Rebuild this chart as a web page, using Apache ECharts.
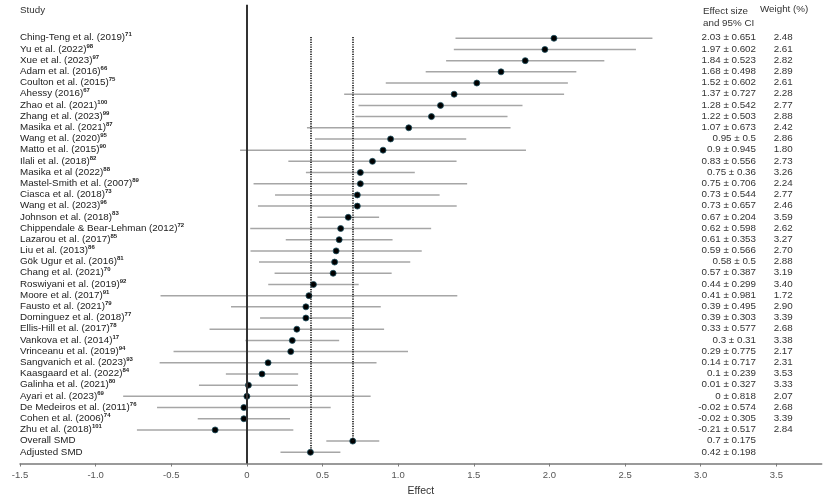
<!DOCTYPE html>
<html><head><meta charset="utf-8">
<script src="https://cdn.jsdelivr.net/npm/echarts@6/dist/echarts.min.js"></script>
<style>html,body{margin:0;padding:0;background:#fff}#c{width:831px;height:499px}</style>
</head><body><div id="c"></div>
<script>
const studies = ["Ching-Teng et al. (2019)","Yu et al. (2022)","Xue et al. (2023)","Adam et al. (2016)","Coulton et al. (2015)","Ahessy (2016)","Zhao et al. (2021)","Zhang et al. (2023)","Masika et al. (2021)","Wang et al. (2020)","Matto et al. (2015)","Ilali et al. (2018)","Masika et al (2022)","Mastel-Smith et al. (2007)","Ciasca et al. (2018)","Wang et al. (2023)","Johnson et al. (2018)","Chippendale & Bear-Lehman (2012)","Lazarou et al. (2017)","Liu et al. (2013)","Gök Ugur et al. (2016)","Chang et al. (2021)","Roswiyani et al. (2019)","Moore et al. (2017)","Fausto et al. (2021)","Dominguez et al. (2018)","Ellis-Hill et al. (2017)","Vankova et al. (2014)","Vrinceanu et al. (2019)","Sangvanich et al. (2023)","Kaasgaard et al. (2022)","Galinha et al. (2021)","Ayari et al. (2023)","De Medeiros et al. (2011)","Cohen et al. (2006)","Zhu et al. (2018)","Overall SMD","Adjusted SMD"];
const refs = ["71","98","97","66","75","67","100","99","87","95","90","82","88","89","73","96","83","72","85","86","81","70","92","91","79","77","78","17","94","93","84","80","69","76","74","101","",""];
const effects = [2.03,1.97,1.84,1.68,1.52,1.37,1.28,1.22,1.07,0.95,0.9,0.83,0.75,0.75,0.73,0.73,0.67,0.62,0.61,0.59,0.58,0.57,0.44,0.41,0.39,0.39,0.33,0.3,0.29,0.14,0.1,0.01,0,-0.02,-0.02,-0.21,0.7,0.42];
const ciHalf = [0.651,0.602,0.523,0.498,0.602,0.727,0.542,0.503,0.673,0.5,0.945,0.556,0.36,0.706,0.544,0.657,0.204,0.598,0.353,0.566,0.5,0.387,0.299,0.981,0.495,0.303,0.577,0.31,0.775,0.717,0.239,0.327,0.818,0.574,0.305,0.517,0.175,0.198];
const weights = ["2.48","2.61","2.82","2.89","2.61","2.28","2.77","2.88","2.42","2.86","1.80","2.73","3.26","2.24","2.77","2.46","3.59","2.62","3.27","2.70","2.88","3.19","3.40","1.72","2.90","3.39","2.68","3.38","2.17","2.31","3.53","3.33","2.07","2.68","3.39","2.84","",""];
const xTicks = [-1.5,-1,-0.5,0,0.5,1,1.5,2,2.5,3,3.5];
const overallSMD = 0.7, adjustedSMD = 0.42;
const overallRow = 36, adjustedRow = 37;

const FONT = '"Liberation Sans", Arial, sans-serif';
const chart = echarts.init(document.getElementById('c'));

const ciData = effects.map((e, i) => [e - ciHalf[i], e + ciHalf[i], i]);
const ptData = effects.map((e, i) => [e, i]);
const rowData = studies.map((s, i) => [0, i]);

chart.setOption({
  animation: false,
  backgroundColor: '#fff',
  grid: { left: 20, right: 9.3, top: 4.7, bottom: 35.5, outerBoundsMode: 'none', containLabel: false },
  xAxis: {
    type: 'value', min: -1.5, max: 3.8,
    axisLine: { show: true, onZero: false, lineStyle: { color: '#7a7a7a', width: 1.5 } },
    axisTick: { show: true, customValues: xTicks, length: 3, lineStyle: { color: '#7a7a7a', width: 1 } },
    axisLabel: { customValues: xTicks, formatter: v => v === 0 ? '0' : v.toFixed(1), color: '#555', fontSize: 9.5, fontFamily: FONT, margin: 7 },
    splitLine: { show: false },
    name: 'Effect', nameLocation: 'middle', nameGap: 22,
    nameTextStyle: { color: '#333', fontSize: 10.5, fontFamily: FONT }
  },
  yAxis: { type: 'value', inverse: true, min: -3, max: 38, show: false },
  graphic: [
    { type: 'text', left: 20, top: 5.5, style: { text: 'Study', fill: '#333', font: '9.8px ' + FONT } },
    { type: 'text', left: 703, top: 6, style: { text: 'Effect size\nand 95% CI', fill: '#333', font: '9.8px ' + FONT, lineHeight: 11.5 } },
    { type: 'text', left: 760, top: 4.5, style: { text: 'Weight (%)', fill: '#333', font: '9.8px ' + FONT } }
  ],
  series: [
    {
      type: 'custom', name: 'ci', z: 2, clip: false,
      data: ciData,
      renderItem: (params, api) => {
        const a = api.coord([api.value(0), api.value(2)]);
        const b = api.coord([api.value(1), api.value(2)]);
        return { type: 'line', shape: { x1: a[0], y1: a[1], x2: b[0], y2: b[1] }, style: { stroke: '#a6a6a6', lineWidth: 1.5 } };
      },
      markLine: {
        silent: true, symbol: 'none', label: { show: false }, animation: false,
        data: [
          [{ coord: [0, -3], lineStyle: { color: '#333', width: 2, type: 'solid' } }, { coord: [0, 38] }],
          [{ coord: [adjustedSMD, -0.12], lineStyle: { color: '#111', width: 1.6, type: [1.2, 1.2] } }, { coord: [adjustedSMD, adjustedRow] }],
          [{ coord: [overallSMD, -0.12], lineStyle: { color: '#111', width: 1.6, type: [1.2, 1.2] } }, { coord: [overallSMD, overallRow] }]
        ]
      }
    },
    {
      type: 'scatter', name: 'effect', z: 4,
      data: ptData, symbolSize: 6,
      itemStyle: { color: '#000', borderColor: '#1d4f5e', borderWidth: 0.8, opacity: 1 }
    },
    {
      type: 'custom', name: 'rows', z: 3, clip: false,
      data: rowData,
      renderItem: (params, api) => {
        const i = api.value(1);
        const y = api.coord([0, i])[1];
        const x0 = api.coord([-1.5, i])[0];
        const r = refs[i];
        const label = r ? '{n|' + studies[i] + '}{s|' + r + '}' : '{n|' + studies[i] + '}';
        return {
          type: 'group',
          children: [
            { type: 'text', x: x0, y: y - 0.5, style: { text: label, align: 'left', verticalAlign: 'middle',
                rich: { n: { fontSize: 9.8, fontFamily: FONT, fill: '#222', lineHeight: 12 },
                        s: { fontSize: 6, fontFamily: FONT, fontWeight: 'bold', fill: '#222', lineHeight: 12, verticalAlign: 'top', padding: [0, 0, 4, 0] } } } },
            { type: 'text', x: 756, y: y - 0.5, style: { text: String(effects[i]) + ' \u00b1 ' + String(ciHalf[i]), align: 'right', verticalAlign: 'middle', fontSize: 9.8, fontFamily: FONT, fill: '#333' } },
            { type: 'text', x: 792.7, y: y - 0.5, style: { text: weights[i], align: 'right', verticalAlign: 'middle', fontSize: 9.8, fontFamily: FONT, fill: '#333' } }
          ]
        };
      }
    }
  ]
});
</script></body></html>
